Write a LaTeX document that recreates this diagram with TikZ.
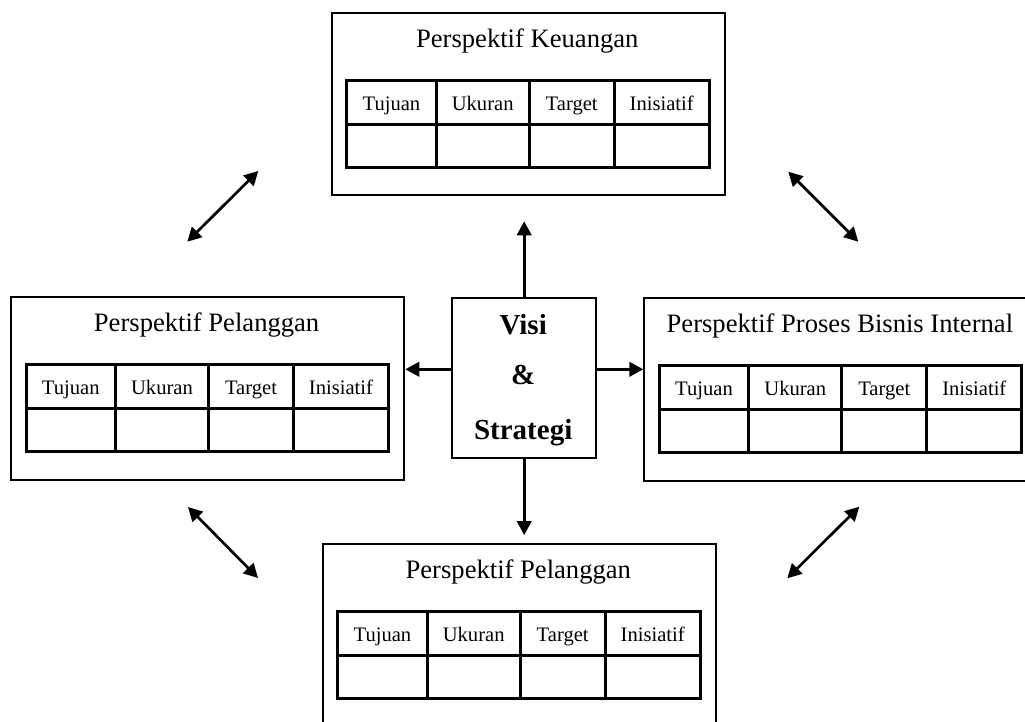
\documentclass[tikz,border=0pt]{standalone}
\usepackage{fontspec}
\setmainfont{Liberation Serif}
\usetikzlibrary{arrows.meta}
\tikzset{
  pbox/.style={draw, line width=1pt, minimum width=196.65pt, minimum height=91.3pt, inner sep=0pt, anchor=north west},
  ptitle/.style={anchor=base, font=\fontsize{13.3}{15}\selectfont, inner sep=0pt},
  cell/.style={anchor=base, font=\fontsize{10.3}{12}\selectfont, inner sep=0pt},
  tline/.style={line width=1.5pt},
  vbox/.style={draw, line width=1pt, minimum width=72.2pt, minimum height=80pt, inner sep=0pt, anchor=north west},
  vtext/.style={anchor=base, font=\fontsize{14.5}{16}\selectfont\bfseries, inner sep=0pt},
  conn/.style={line width=1.35pt, -{Triangle[length=7pt,width=7.2pt]}},
  dconn/.style={line width=1.35pt, {Triangle[length=7pt,width=7.2pt]}-{Triangle[length=7pt,width=7.2pt]}}
}
\newcommand\persp[4]{%
  \begin{scope}[shift={(#2,#3)}]
    \node[pbox] (#1) at (0,0) {};
    \node[ptitle] (#1-title) at (196.6,36) {#4};
    \draw[tline] (16,68.5) rectangle (378.5,156);
    \draw[tline] (16,112.5) -- (378.5,112.5);
    \draw[tline] (105.5,68.5) -- (105.5,156);
    \draw[tline] (198.5,68.5) -- (198.5,156);
    \draw[tline] (283.5,68.5) -- (283.5,156);
    \node[cell] (#1-c1) at (60.75,98.5) {Tujuan};
    \node[cell] (#1-c2) at (152,98.5) {Ukuran};
    \node[cell] (#1-c3) at (241,98.5) {Target};
    \node[cell] (#1-c4) at (331,98.5) {Inisiatif};
  \end{scope}}
\begin{document}
\begin{tikzpicture}[x=0.5pt,y=-0.5pt]
  \useasboundingbox (0,0) rectangle (1025,722);
  \persp{keu}{330.7}{11.7}{Perspektif Keuangan}
  \persp{pel}{10}{296}{Perspektif Pelanggan}
  \persp{pbi}{643.3}{297}{Perspektif Proses Bisnis Internal}
  \persp{bot}{321.7}{542.7}{Perspektif Pelanggan}
  \node[vbox] (vs) at (451,296.7) {};
  \node[vtext] (vs-1) at (523.2,335) {Visi};
  \node[vtext] (vs-2) at (523.2,385) {\&};
  \node[vtext] (vs-3) at (523.2,440) {Strategi};
  \coordinate (vsL) at ([yshift=4.2pt]vs.west);
  \coordinate (vsR) at ([yshift=4.2pt]vs.east);
  \draw[conn, shorten >=12.5pt] (vs.north) -- (vs.north |- keu.south);
  \draw[conn, shorten >=3.8pt] (vs.south) -- (vs.south |- bot.north);
  \draw[conn] (vsL) -- (vsL -| pel.east);
  \draw[conn] (vsR) -- (vsR -| pbi.west);
  \coordinate (d1a) at (187.3,241.7);
  \coordinate (d1b) at (258.3,171);
  \coordinate (d2a) at (788.3,171.7);
  \coordinate (d2b) at (858.3,241.7);
  \coordinate (d3a) at (188,507);
  \coordinate (d3b) at (258,578);
  \coordinate (d4a) at (787.3,578.3);
  \coordinate (d4b) at (859.3,506.7);
  \draw[dconn] (d1a) -- (d1b);
  \draw[dconn] (d2a) -- (d2b);
  \draw[dconn] (d3a) -- (d3b);
  \draw[dconn] (d4a) -- (d4b);
\end{tikzpicture}
\end{document}
